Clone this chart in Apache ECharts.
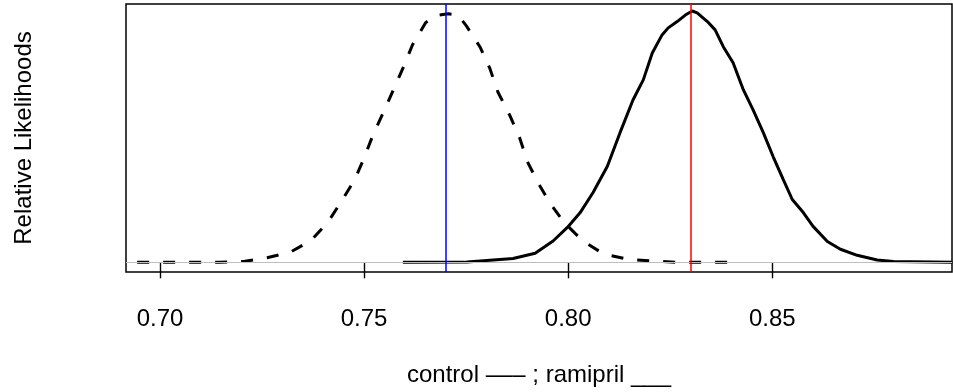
<!DOCTYPE html>
<html>
<head>
<meta charset="utf-8">
<script src="https://cdn.jsdelivr.net/npm/echarts@6/dist/echarts.min.js"></script>
<style>html,body{margin:0;padding:0;background:#fff}#c{width:953px;height:392px}</style>
</head>
<body>
<div id="c"></div>
<script>
// ---- data ----
const xTicks = [0.70, 0.75, 0.80, 0.85];
const controlX = [0.6944,0.7012,0.7086,0.7147,0.7208,0.7262,0.7319,0.7370,0.7412,0.7444,0.7477,0.7501,0.7523,0.7548,0.7572,0.7596,0.7619,0.7651,0.7674,0.7706,0.7730,0.7751,0.7784,0.7808,0.7828,0.7857,0.7881,0.7900,0.7926,0.7956,0.7991,0.8036,0.8086,0.8146,0.8207,0.8268,0.8330,0.8402];
const controlY = [0,0,0,0,0.004,0.018,0.040,0.087,0.161,0.242,0.329,0.419,0.512,0.599,0.687,0.776,0.867,0.954,0.982,0.989,0.985,0.940,0.857,0.772,0.677,0.585,0.496,0.401,0.317,0.234,0.157,0.085,0.034,0.012,0.005,0,0,0];
const ramiprilX = [0.7595,0.7752,0.7865,0.7919,0.7963,0.7998,0.8029,0.8061,0.8096,0.8127,0.8159,0.8184,0.8206,0.8230,0.8245,0.8267,0.8287,0.8304,0.8316,0.8341,0.8360,0.8380,0.8404,0.8429,0.8453,0.8478,0.8502,0.8527,0.8549,0.8576,0.8600,0.8635,0.8667,0.8708,0.8757,0.8797,0.8941];
const ramiprilY = [0,0.001,0.015,0.036,0.085,0.139,0.197,0.278,0.382,0.516,0.647,0.726,0.833,0.905,0.933,0.958,0.984,1.0,0.993,0.958,0.925,0.858,0.794,0.687,0.607,0.516,0.421,0.329,0.250,0.198,0.143,0.083,0.052,0.028,0.009,0.003,0];
const controlPeak = 0.77;   // blue line
const ramiprilPeak = 0.83;  // red line
const xTitle = 'control \u2013\u2013\u2013 ; ramipril ___';
const yTitle = 'Relative Likelihoods';

const zip = (xs, ys) => xs.map((x, i) => [x, ys[i]]);
const FONT = 'Liberation Sans, Arial, sans-serif';

const chart = echarts.init(document.getElementById('c'), null, {renderer: 'canvas'});
chart.setOption({
  animation: false,
  backgroundColor: '#fff',
  grid: {left: 126, top: 4, right: 1, bottom: 119, show: true, borderColor: '#000', borderWidth: 1.5, backgroundColor: 'transparent'},
  xAxis: {
    type: 'value', min: 0.69167, max: 0.89403,
    name: xTitle, nameLocation: 'middle', nameGap: 91,
    nameTextStyle: {fontFamily: FONT, fontSize: 24, color: '#000'},
    axisLine: {show: false},
    axisTick: {show: true, customValues: xTicks, length: 16, lineStyle: {color: '#000', width: 1.4}},
    axisLabel: {show: true, customValues: xTicks, margin: 35, fontFamily: FONT, fontSize: 24, color: '#000',
      formatter: v => v.toFixed(2)},
    splitLine: {show: false}
  },
  yAxis: {
    type: 'value', min: -0.0385, max: 1.028,
    name: yTitle, nameLocation: 'middle', nameGap: 90, nameRotate: 90,
    nameTextStyle: {fontFamily: FONT, fontSize: 24, color: '#000'},
    axisLine: {show: false}, axisTick: {show: false}, axisLabel: {show: false}, splitLine: {show: false}
  },
  series: [
    {type: 'line', name: 'control', data: zip(controlX, controlY), showSymbol: false, z: 2,
     lineStyle: {color: '#000', width: 3, type: [12, 14], cap: 'butt'}},
    {type: 'line', name: 'zero', data: [], z: 3, showSymbol: false,
     markLine: {silent: true, symbol: 'none', label: {show: false},
       lineStyle: {color: '#bebebe', width: 1.2, type: 'solid'}, data: [{yAxis: 0}]}},
    {type: 'line', name: 'ramipril', data: zip(ramiprilX, ramiprilY), showSymbol: false, z: 4,
     lineStyle: {color: '#000', width: 3, type: 'solid'}},
    {type: 'line', name: 'peaks', data: [], z: 5, showSymbol: false,
     markLine: {silent: true, symbol: 'none', label: {show: false},
       data: [
         {xAxis: controlPeak, lineStyle: {color: '#0000ff', width: 1.5, type: 'solid'}},
         {xAxis: ramiprilPeak, lineStyle: {color: '#ff0000', width: 1.5, type: 'solid'}}
       ]}}
  ]
});
</script>
</body>
</html>
